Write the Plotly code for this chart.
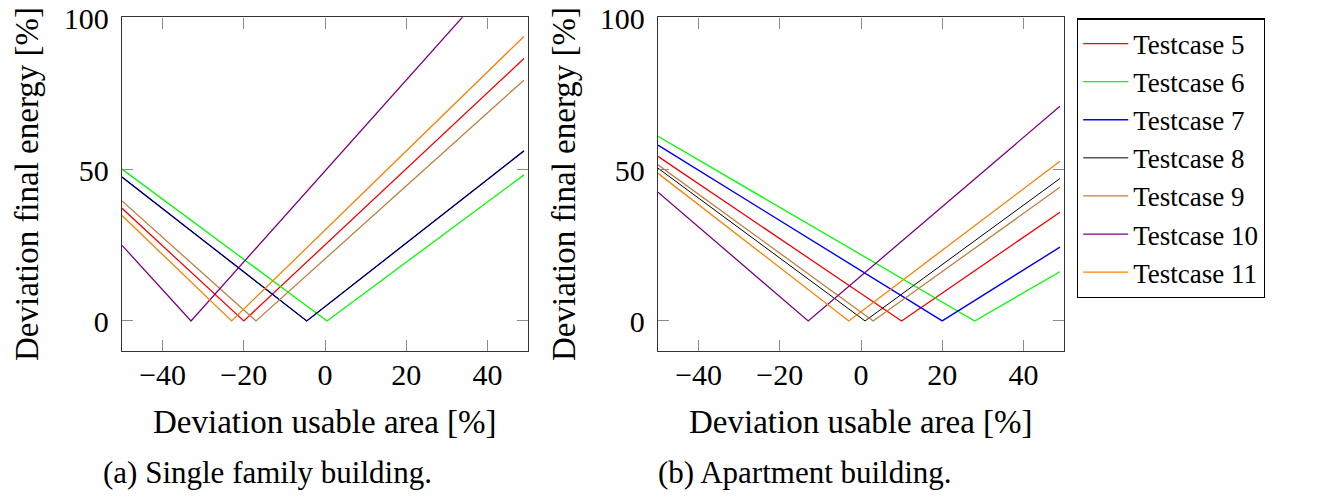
import plotly.graph_objects as go

# ---- data ----
names = ["Testcase 5", "Testcase 6", "Testcase 7", "Testcase 8",
         "Testcase 9", "Testcase 10", "Testcase 11"]
colors = ["#ff0000", "#00ff00", "#0000ff", "#000000",
          "#bf8040", "#800080", "#ff8000"]
widths = [1.3, 1.3, 1.4, 1.0, 1.3, 1.3, 1.3]

x_start = -50
x_end = 49

# (a) Single family building: left-end value, vertex x, right-end value
single_left = [37.1, 50.0, 47.4, 47.4, 39.5, 24.9, 34.7]
single_vertex = [-20, 0.5, -4.5, -4.5, -17, -33, -23]
single_right = [86.4, 48.1, 56.0, 56.0, 79.3, 122.7, 93.7]

# (b) Apartment building
apart_left = [54.2, 60.8, 57.9, 50.3, 51.4, 42.4, 48.6]
apart_vertex = [10, 28, 20, 1, 3, -13, -3]
apart_right = [35.8, 16.2, 24.3, 46.9, 44.0, 70.7, 52.6]

x_ticks = [-40, -20, 0, 20, 40]
y_ticks = [0, 50, 100]

FONT = "'Liberation Serif', 'Times New Roman', serif"
# the page body has an 8px margin; figure is sized so the page does not scroll
OFF = 8
W, H = 1318 - 2 * OFF, 501 - 2 * OFF

fig = go.Figure()

for i, name in enumerate(names):
    fig.add_trace(go.Scatter(
        x=[x_start, single_vertex[i], x_end],
        y=[single_left[i], 0, single_right[i]],
        mode="lines", name=name, showlegend=True,
        line=dict(color=colors[i], width=widths[i]),
        xaxis="x", yaxis="y"))
for i, name in enumerate(names):
    fig.add_trace(go.Scatter(
        x=[x_start, apart_vertex[i], x_end],
        y=[apart_left[i], 0, apart_right[i]],
        mode="lines", name=name, showlegend=False,
        line=dict(color=colors[i], width=widths[i]),
        xaxis="x2", yaxis="y2"))

def px_x(p):
    return (p - OFF) / W

def px_y(p):
    return (H - (p - OFF)) / H

axis_common = dict(
    showgrid=False, zeroline=False, showline=True, linecolor="#333333",
    linewidth=1.4, mirror="ticks", ticks="inside", ticklen=11,
    tickcolor="#8c8c8c", tickwidth=1.2, automargin=False,
    ticklabeloverflow="allow",
    tickfont=dict(family=FONT, size=30, color="black"),
)

ydom = [px_y(351.3), px_y(17.3)]
fig.update_layout(
    width=W, height=H,
    margin=dict(l=0, r=0, t=0, b=0, pad=0),
    paper_bgcolor="white", plot_bgcolor="white",
    showlegend=True,
    xaxis=dict(domain=[px_x(122), px_x(528)], range=[-50, 50],
               tickvals=x_ticks, anchor="y", ticklabelstandoff=-4, **axis_common),
    yaxis=dict(domain=ydom, range=[-10, 100], tickvals=y_ticks,
               anchor="x", ticklabelstandoff=6, ticklabelshift=1, **axis_common),
    xaxis2=dict(domain=[px_x(658), px_x(1064)], range=[-50, 50],
                tickvals=x_ticks, anchor="y2", ticklabelstandoff=-4, **axis_common),
    yaxis2=dict(domain=ydom, range=[-10, 100], tickvals=y_ticks,
                anchor="x2", ticklabelstandoff=6, ticklabelshift=1, **axis_common),
    legend=dict(x=px_x(1077), y=px_y(18.3), xanchor="left", yanchor="top",
                bordercolor="black", borderwidth=1.2, bgcolor="white",
                font=dict(family=FONT, size=27, color="black"),
                itemwidth=45, tracegroupgap=0),
)

ann_font = dict(family=FONT, size=33, color="black")
cap_font = dict(family=FONT, size=31, color="black")
annotations = [
    dict(text="Deviation usable area [%]", x=px_x(325), y=px_y(422),
         xref="paper", yref="paper", showarrow=False, font=ann_font,
         xanchor="center", yanchor="middle"),
    dict(text="Deviation usable area [%]", x=px_x(861), y=px_y(422),
         xref="paper", yref="paper", showarrow=False, font=ann_font,
         xanchor="center", yanchor="middle"),
    dict(text="Deviation final energy [%]", x=px_x(27), y=px_y(184),
         xref="paper", yref="paper", showarrow=False, font=ann_font,
         textangle=-90, xanchor="center", yanchor="middle"),
    dict(text="Deviation final energy [%]", x=px_x(564), y=px_y(184),
         xref="paper", yref="paper", showarrow=False, font=ann_font,
         textangle=-90, xanchor="center", yanchor="middle"),
    dict(text="(a) Single family building.", x=px_x(267), y=px_y(472),
         xref="paper", yref="paper", showarrow=False, font=cap_font,
         xanchor="center", yanchor="middle"),
    dict(text="(b) Apartment building.", x=px_x(805), y=px_y(472),
         xref="paper", yref="paper", showarrow=False, font=cap_font,
         xanchor="center", yanchor="middle"),
]
fig.update_layout(annotations=annotations)

fig.write_html("out.html")
